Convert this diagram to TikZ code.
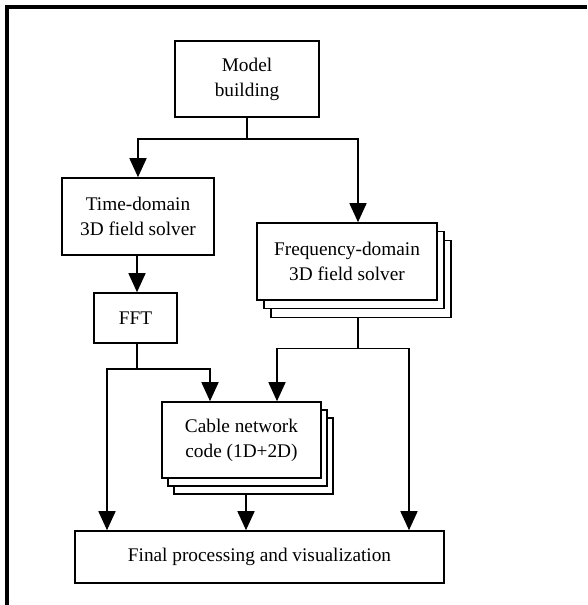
\documentclass[tikz,border=0pt]{standalone}
\usepackage{fontspec}
\setmainfont{Liberation Serif}
\usetikzlibrary{arrows.meta,calc}
\begin{document}
\begin{tikzpicture}[x=1pt,y=-1pt,
  box/.style={draw,line width=1.6pt,fill=white,align=center,inner sep=0pt,
    font=\fontsize{19.3}{25}\selectfont},
  link/.style={line width=1.6pt},
  arr/.style={line width=1.6pt,-{Triangle[width=17pt,length=19pt]}}]
\useasboundingbox (0,0) rectangle (587,605);
\draw[line width=3.5pt] (7,605) -- (7,7) -- (587,7);
% boxes
\node[box,minimum width=144pt,minimum height=76pt] (model) at (247,79) {Model\\building};
\node[box,minimum width=152pt,minimum height=77pt] (time) at (138,216.5) {Time-domain\\3D field solver};
\node[box,minimum width=83pt,minimum height=50pt] (fft) at (135.5,318) {FFT};
\node[box,minimum width=180pt,minimum height=77pt] (freqc) at (361,279) {};
\node[box,minimum width=180pt,minimum height=77pt] (freqb) at (354,270) {};
\node[box,minimum width=180pt,minimum height=77pt] (freq) at (347,261.5) {Frequency-domain\\3D field solver};
\node[box,minimum width=159pt,minimum height=76pt] (cablec) at (253.5,456) {};
\node[box,minimum width=159pt,minimum height=76pt] (cableb) at (247.5,448) {};
\node[box,minimum width=159pt,minimum height=76pt] (cable) at (241.5,440) {Cable network\\code (1D+2D)};
\node[box,minimum width=369pt,minimum height=52pt] (final) at (259.5,557) {Final processing and visualization};
% connectors
\draw[link] (model.south) -- ++(0,21) coordinate (mb);
\draw[arr] (mb) -| (time.north);
\draw[arr] (mb) -| ([xshift=11pt]freq.north);
\draw[arr] (time.south -| 137,0) -- (fft.north -| 137,0);
\draw[link] (fft.south -| 137,0) -- ++(0,25) coordinate (fb);
\draw[arr] (fb) -| (final.north -| 107,0);
\draw[arr] (fb) -| (cable.north -| 210,0);
\draw[link] (freqc.south -| 358,0) -- ++(0,30) coordinate (qb);
\draw[arr] (qb) -| (cable.north -| 277,0);
\draw[arr] (qb) -| (final.north -| 409,0);
\draw[arr] (cablec.south -| 246,0) -- (final.north -| 246,0);
\end{tikzpicture}
\end{document}
